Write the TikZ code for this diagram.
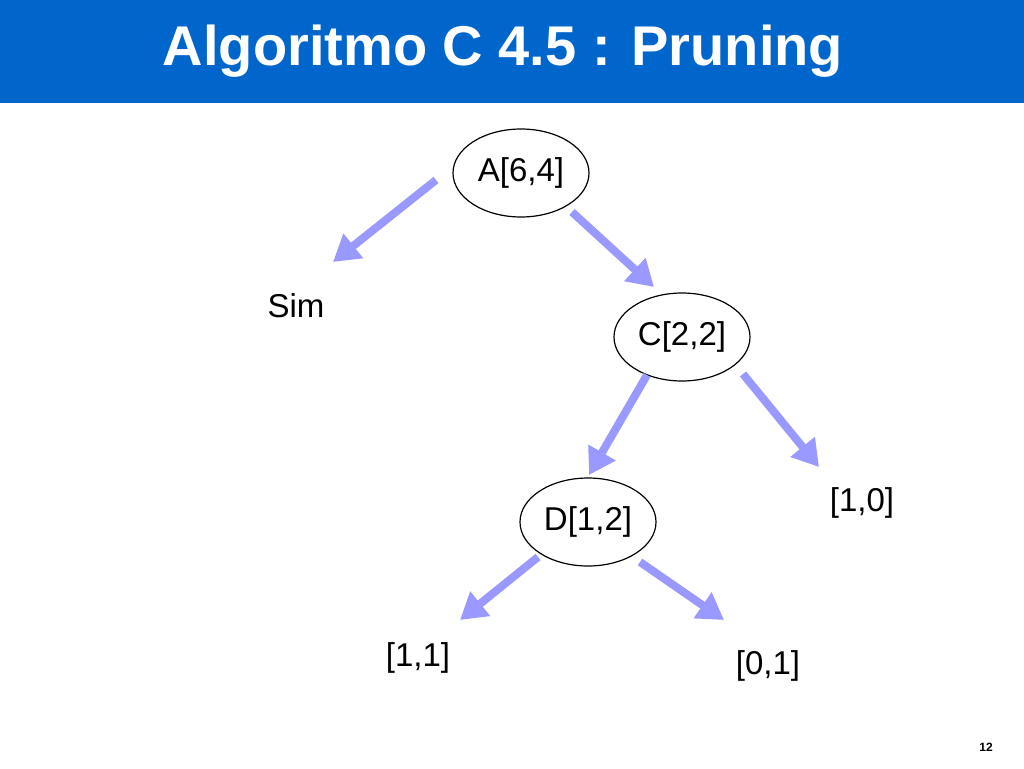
\documentclass[tikz,border=0pt]{standalone}
\usepackage{fontspec}
\setmainfont{Liberation Sans}
\usetikzlibrary{arrows.meta,shapes.geometric}
\definecolor{barblue}{HTML}{0066CC}
\definecolor{arrowblue}{HTML}{9999FF}
\begin{document}
\begin{tikzpicture}[x=1pt,y=-1pt,
  treenode/.style={draw=black,line width=1.2pt,ellipse,minimum width=136pt,minimum height=88pt,inner sep=0pt,font=\fontsize{33}{33}\selectfont},
  leaf/.style={inner sep=0pt,font=\fontsize{33}{33}\selectfont},
  branch/.style={draw=arrowblue,line width=8pt,-{Triangle[length=26pt,width=30pt]}}]
\useasboundingbox (0,0) rectangle (1024,768);
\fill[barblue] (0,0) rectangle (1024,103);
\node[anchor=base,text=white,inner sep=0pt,font=\fontsize{56}{56}\selectfont\bfseries] (title) at (503,65) {Algoritmo C 4.5 : Pruning};
\node[treenode] (A) at (521,173) {A[6,4]};
\node[treenode] (C) at (682,337) {C[2,2]};
\node[treenode] (D) at (588,522) {D[1,2]};
\node[leaf] (sim) at (296,306) {Sim};
\node[leaf] (l10) at (862,503) {[1,0]};
\node[leaf] (l11) at (418,658) {[1,1]};
\node[leaf] (l01) at (768,666) {[0,1]};
\node[inner sep=0pt,font=\fontsize{12}{12}\selectfont\bfseries] (page) at (986,747) {12};
\coordinate (a1) at (436,180); \coordinate (a1e) at (333,262);
\coordinate (a2) at (572,212); \coordinate (a2e) at (654,287);
\coordinate (c1) at (647,375); \coordinate (c1e) at (589,475);
\coordinate (c2) at (743,374); \coordinate (c2e) at (819,467);
\coordinate (d1) at (538,557); \coordinate (d1e) at (460,620);
\coordinate (d2) at (640,562); \coordinate (d2e) at (724,620);
\draw[branch] (a1) -- (a1e);
\draw[branch] (a2) -- (a2e);
\draw[branch] (c1) -- (c1e);
\draw[branch] (c2) -- (c2e);
\draw[branch] (d1) -- (d1e);
\draw[branch] (d2) -- (d2e);
\end{tikzpicture}
\end{document}
